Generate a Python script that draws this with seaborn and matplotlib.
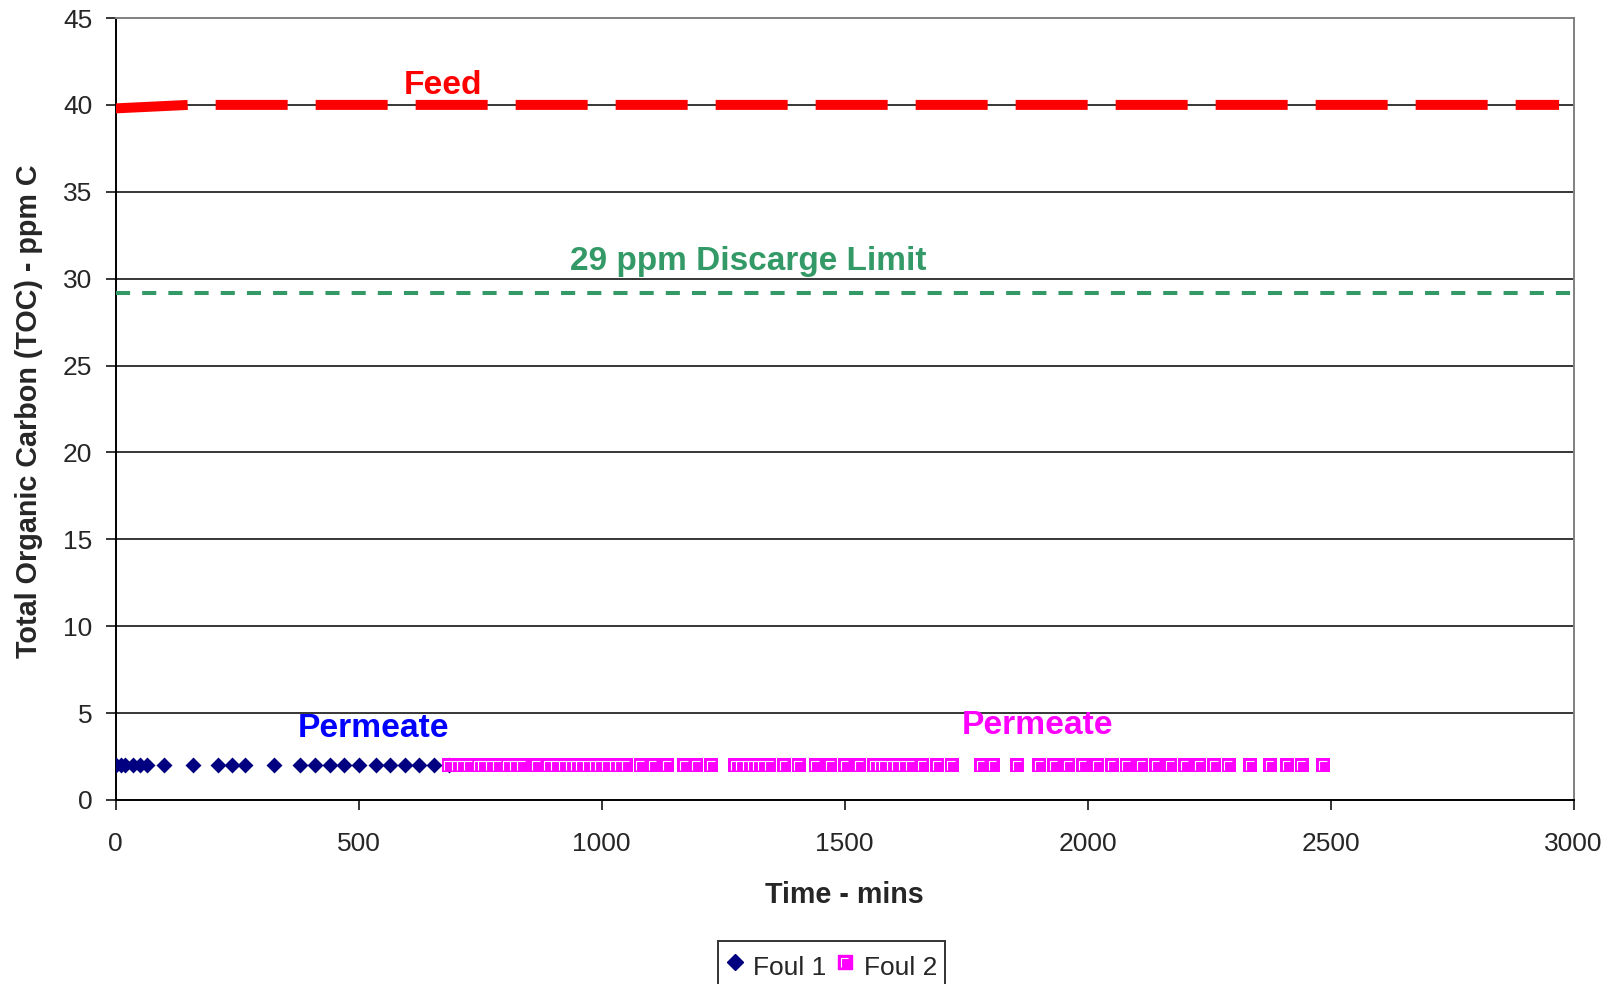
import numpy as np
import pandas as pd
import seaborn as sns
import matplotlib
matplotlib.use("Agg")
import matplotlib.pyplot as plt
from matplotlib.path import Path
from matplotlib.lines import Line2D

# ---- data ----
feed_x = [0, 150, 2970]
feed_y = [39.8, 40.0, 40.0]

limit_x = [0, 3000]
limit_y = [29.2, 29.2]

foul1_x = [0, 10, 20, 35, 50, 65, 100, 160, 210, 240, 265, 325, 380, 410, 440,
           470, 500, 535, 565, 595, 625, 655, 685]
foul1_y = [2.0] * len(foul1_x)

foul2_x = [685, 700, 710, 725, 745, 755, 770, 785, 805, 820, 835, 865, 890, 905,
           920, 935, 945, 955, 970, 985, 995, 1010, 1025, 1035, 1050, 1080, 1105,
           1135, 1170, 1195, 1225, 1275, 1285, 1300, 1310, 1320, 1330, 1345, 1375,
           1405, 1440, 1470, 1500, 1530, 1560, 1570, 1580, 1595, 1605, 1620, 1635,
           1660, 1690, 1720, 1780, 1805, 1855, 1900, 1930, 1960, 1990, 2020, 2050,
           2080, 2110, 2140, 2170, 2200, 2230, 2260, 2290, 2335, 2375, 2410, 2440,
           2485]
foul2_y = [2.0] * len(foul2_x)

x_ticks = [0, 500, 1000, 1500, 2000, 2500, 3000]
y_ticks = [0, 5, 10, 15, 20, 25, 30, 35, 40, 45]

sns.set_style("white")
plt.rcParams['font.family'] = ['Liberation Sans', 'DejaVu Sans']

fig = plt.figure(figsize=(16.21, 9.84), dpi=100)
ax = fig.add_axes([0.0714, 0.187, 0.8994, 0.7947])

# grid lines
for yv in y_ticks[1:-1]:
    ax.axhline(yv, color='black', lw=1.1, zorder=0)

sns.lineplot(x=feed_x, y=feed_y, ax=ax, color='#FF0000', lw=7.2,
             linestyle=(0, (7.2, 2.8)), solid_capstyle='butt',
             dash_capstyle='butt', zorder=3, legend=False)
sns.lineplot(x=limit_x, y=limit_y, ax=ax, color='#339966', lw=2.9,
             linestyle=(0, (3.5, 3.0)), dash_capstyle='butt', zorder=3,
             legend=False)

sns.scatterplot(x=foul1_x, y=foul1_y, ax=ax, marker='D', s=66,
                color='#000080', edgecolor='#000080', linewidth=0,
                zorder=4, legend=False)
sns.scatterplot(x=foul2_x, y=foul2_y, ax=ax, marker='s', s=100,
                color='#FF00FF', edgecolor='#FF00FF', linewidth=0,
                zorder=5, legend=False)

# white highlight inside each magenta square marker
Lpath = Path([(0.5, 0.5), (-0.3, -0.35), (-0.3, 0.3), (0.25, 0.3)],
             [Path.MOVETO, Path.MOVETO, Path.LINETO, Path.LINETO])
sns.scatterplot(x=foul2_x, y=foul2_y, ax=ax, marker=Lpath, s=100,
                facecolors='none', edgecolor='white', linewidth=0.8,
                zorder=6, legend=False)

# annotations
ax.text(674, 41.12, 'Feed', color='#FF0000', fontsize=24.2, fontweight='bold',
        ha='center', va='center')
ax.text(1302, 30.96, '29 ppm Discarge Limit', color='#339966', fontsize=24.0,
        fontweight='bold', ha='center', va='center')
ax.text(530, 4.12, 'Permeate', color='#0000FF', fontsize=24.2,
        fontweight='bold', ha='center', va='center')
ax.text(1897, 4.27, 'Permeate', color='#FF00FF', fontsize=24.2,
        fontweight='bold', ha='center', va='center')

ax.set_xlim(0, 3000)
ax.set_ylim(0, 45)
ax.set_xticks(x_ticks)
ax.set_yticks(y_ticks)
ax.tick_params(axis='both', which='major', direction='out', length=7,
               width=1.1, color='black', labelsize=19, left=True,
               bottom=True)
ax.tick_params(axis='x', pad=16)
ax.tick_params(axis='y', pad=10)

for side in ['left', 'bottom']:
    ax.spines[side].set_color('black')
    ax.spines[side].set_linewidth(1.4)
for side in ['top', 'right']:
    ax.spines[side].set_color('#808080')
    ax.spines[side].set_linewidth(1.4)
    ax.spines[side].set_visible(True)

ax.set_xlabel('Time - mins', fontsize=20.6, fontweight='bold', va='center')
ax.xaxis.set_label_coords(0.5, -0.1216)
ax.set_ylabel('Total Organic Carbon (TOC) - ppm C', fontsize=20.7,
              fontweight='bold', va='center')
ax.yaxis.set_label_coords(-0.0594, 0.497)

h_diamond = Line2D([], [], marker='D', color='#000080', linestyle='none',
                   markersize=8)
h_square = Line2D([], [], marker='s', color='#FF00FF', linestyle='none',
                  markersize=9.5)
h_hilite = Line2D([], [], marker=Lpath, linestyle='none', markersize=9.5,
                  markerfacecolor='none', markeredgecolor='white',
                  markeredgewidth=0.8)
leg = fig.legend([h_diamond, (h_square, h_hilite)], ['Foul 1', 'Foul 2'],
                 loc='upper center', bbox_to_anchor=(0.513, 0.044), ncol=2,
                 fontsize=19, frameon=True, fancybox=False, shadow=False,
                 handletextpad=0.35, columnspacing=0.38, handlelength=0.68,
                 handleheight=1.65, borderpad=0.3, borderaxespad=0)
leg.get_frame().set_edgecolor('black')
leg.get_frame().set_linewidth(1.4)

fig.savefig('out.png', dpi=100)
